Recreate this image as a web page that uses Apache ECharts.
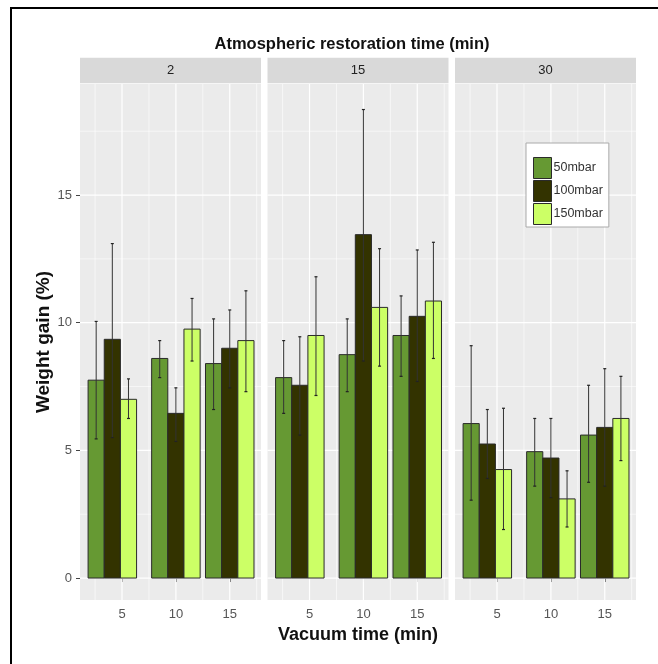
<!DOCTYPE html>
<html lang="en">
<head>
    <meta charset="UTF-8">
    <title>weight_gain_facets</title>
    <script src="https://cdn.jsdelivr.net/npm/echarts@6/dist/echarts.min.js"></script>
</head>

<body style="margin: 0; background: #fff;">
    <div id="mainChart" style="width: 658px; height: 664px;"></div>
    <script>
        // facets (atmospheric restoration time) and groups
        let restorationTimes = ['2', '15', '30']
        let pressures = ['50mbar', '100mbar', '150mbar']
        let vacuumTicks = [5, 10, 15]
        let groupX = [4.1, 10, 15]
        let yTicks = [0, 5, 10, 15]

        // [panel][vacuum time] : mean, lower and upper end of the error bar
        let mean50 = [[7.75, 8.6, 8.4], [7.85, 8.75, 9.5], [6.05, 4.95, 5.6]]
        let low50 = [[5.45, 7.85, 6.6], [6.45, 7.3, 7.9], [3.05, 3.6, 3.75]]
        let high50 = [[10.05, 9.3, 10.15], [9.3, 10.15, 11.05], [9.1, 6.25, 7.55]]

        let mean100 = [[9.35, 6.45, 9.0], [7.55, 13.45, 10.25], [5.25, 4.7, 5.9]]
        let low100 = [[5.5, 5.35, 7.45], [5.6, 8.5, 7.7], [3.9, 3.15, 3.6]]
        let high100 = [[13.1, 7.45, 10.5], [9.45, 18.35, 12.85], [6.6, 6.25, 8.2]]

        let mean150 = [[7.0, 9.75, 9.3], [9.5, 10.6, 10.85], [4.25, 3.1, 6.25]]
        let low150 = [[6.25, 8.5, 7.3], [7.15, 8.3, 8.6], [1.9, 2.0, 4.6]]
        let high150 = [[7.8, 10.95, 11.25], [11.8, 12.9, 13.15], [6.65, 4.2, 7.9]]

        // white grid lines of the panels
        let hMajor = [0, 5, 10, 15]
        let hMinor = [2.5, 7.5, 12.5, 17.5]
        let vMajor = [5, 10, 15]
        let vMinor = [2.5, 7.5, 12.5, 17.5]

        let colors = ['#669933', '#333300', '#CCFF66']
        let means = [mean50, mean100, mean150]
        let lows = [low50, low100, low150]
        let highs = [high50, high100, high150]

        let xMin = 1.1, xMax = 17.9, yMin = -0.86, yMax = 19.35
        let barWidth = 1.5
        let panelLeft = [80, 267.5, 455]
        let panelWidth = 181
        let panelTop = 84
        let panelHeight = 516
        let font = 'Liberation Sans'

        let grids = [], xAxes = [], yAxes = [], series = [], graphics = []

        for (let i = 0; i < restorationTimes.length; i++) {
            grids.push({
                left: panelLeft[i], top: panelTop, width: panelWidth, height: panelHeight,
                show: true, backgroundColor: '#EBEBEB', borderWidth: 0
            })
            xAxes.push({
                type: 'value', gridIndex: i, min: xMin, max: xMax,
                axisLine: { show: false },
                axisTick: { show: true, customValues: vacuumTicks, length: 4, lineStyle: { color: '#444' } },
                axisLabel: { customValues: vacuumTicks, margin: 8, color: '#555', fontSize: 13, fontFamily: font },
                splitLine: { show: false },
                name: i === 1 ? 'Vacuum time (min)' : '',
                nameLocation: 'middle', nameGap: 26,
                nameTextStyle: { fontSize: 18, fontWeight: 'bold', color: '#111', fontFamily: font }
            })
            yAxes.push({
                type: 'value', gridIndex: i, min: yMin, max: yMax,
                axisLine: { show: false },
                axisTick: { show: i === 0, customValues: yTicks, length: 4, lineStyle: { color: '#444' } },
                axisLabel: { show: i === 0, customValues: yTicks, margin: 8, color: '#555', fontSize: 13, fontFamily: font },
                splitLine: { show: false },
                name: i === 0 ? 'Weight gain (%)' : '',
                nameLocation: 'middle', nameRotate: 90, nameGap: 27,
                nameTextStyle: { fontSize: 19, fontWeight: 'bold', color: '#111', fontFamily: font }
            })

            let lines = []
            hMajor.forEach(v => lines.push([v, 0]))
            hMinor.forEach(v => lines.push([v, 1]))
            vMajor.forEach(v => lines.push([v, 2]))
            vMinor.forEach(v => lines.push([v, 3]))
            series.push({
                type: 'custom', xAxisIndex: i, yAxisIndex: i, silent: true, z: 1,
                data: lines,
                renderItem: function (params, api) {
                    let cs = params.coordSys
                    let v = api.value(0), kind = api.value(1)
                    let shape
                    if (kind < 2) {
                        let y = api.coord([xMin, v])[1]
                        shape = { x1: cs.x, y1: y, x2: cs.x + cs.width, y2: y }
                    } else {
                        let x = api.coord([v, yMin])[0]
                        shape = { x1: x, y1: cs.y, x2: x, y2: cs.y + cs.height }
                    }
                    return {
                        type: 'line', shape: shape,
                        style: { stroke: '#FFFFFF', lineWidth: kind % 2 === 0 ? 1.2 : 0.6 }
                    }
                }
            })

            for (let p = 0; p < pressures.length; p++) {
                let data = []
                for (let j = 0; j < groupX.length; j++) {
                    data.push([groupX[j], means[p][i][j], lows[p][i][j], highs[p][i][j]])
                }
                let offset = (p - 1) * barWidth
                series.push({
                    type: 'custom', name: pressures[p], xAxisIndex: i, yAxisIndex: i, z: 2,
                    itemStyle: { color: colors[p], borderColor: '#2a2a2a', borderWidth: 1 },
                    data: data,
                    renderItem: function (params, api) {
                        let x = api.value(0) + offset
                        let tl = api.coord([x - barWidth / 2, api.value(1)])
                        let br = api.coord([x + barWidth / 2, 0])
                        let hi = api.coord([x, api.value(3)])
                        let lo = api.coord([x, api.value(2)])
                        return {
                            type: 'group',
                            children: [
                                {
                                    type: 'rect',
                                    shape: { x: tl[0], y: tl[1], width: br[0] - tl[0], height: br[1] - tl[1] },
                                    style: { fill: colors[p], stroke: '#2a2a2a', lineWidth: 1 }
                                },
                                {
                                    type: 'line',
                                    shape: { x1: hi[0], y1: hi[1], x2: lo[0], y2: lo[1] },
                                    style: { stroke: '#333', lineWidth: 1 }
                                },
                                {
                                    type: 'line',
                                    shape: { x1: hi[0] - 1.5, y1: hi[1], x2: hi[0] + 1.5, y2: hi[1] },
                                    style: { stroke: '#222', lineWidth: 1.2 }
                                },
                                {
                                    type: 'line',
                                    shape: { x1: lo[0] - 1.5, y1: lo[1], x2: lo[0] + 1.5, y2: lo[1] },
                                    style: { stroke: '#222', lineWidth: 1.2 }
                                }
                            ]
                        }
                    }
                })
            }

            // facet strip
            graphics.push({
                type: 'rect', left: panelLeft[i], top: 57.7,
                shape: { width: panelWidth, height: 25.6 },
                style: { fill: '#D9D9D9' }
            })
            graphics.push({
                type: 'text', x: panelLeft[i] + panelWidth / 2, y: 70.5,
                style: {
                    text: restorationTimes[i], fill: '#222', fontSize: 13, fontFamily: font,
                    align: 'center', verticalAlign: 'middle'
                }
            })
        }

        graphics.push({
            type: 'rect', shape: { x: 11, y: 8, width: 700, height: 700 },
            style: { fill: 'none', stroke: '#000', lineWidth: 2 }
        })

        let chartsData = {
            animation: false,
            backgroundColor: '#FFFFFF',
            title: {
                text: 'Atmospheric restoration time (min)',
                left: 347, top: 31, textAlign: 'center',
                textStyle: { fontSize: 16.5, fontWeight: 'bold', color: '#111', fontFamily: font }
            },
            legend: {
                data: pressures,
                orient: 'vertical',
                left: 526, top: 143,
                padding: [14, 6, 2, 7],
                icon: 'rect',
                itemWidth: 18, itemHeight: 21, itemGap: 1,
                backgroundColor: '#FFFFFF',
                borderColor: '#AAAAAA', borderWidth: 1,
                itemStyle: { borderColor: '#2a2a2a', borderWidth: 1 },
                textStyle: { fontSize: 12.5, color: '#333', fontFamily: font, padding: [0, 0, 0, -3] }
            },
            grid: grids,
            xAxis: xAxes,
            yAxis: yAxes,
            series: series,
            graphic: graphics
        }

        let charts = echarts.init(document.querySelector('#mainChart'))
        charts.setOption(chartsData, true)
    </script>
</body>

</html>
